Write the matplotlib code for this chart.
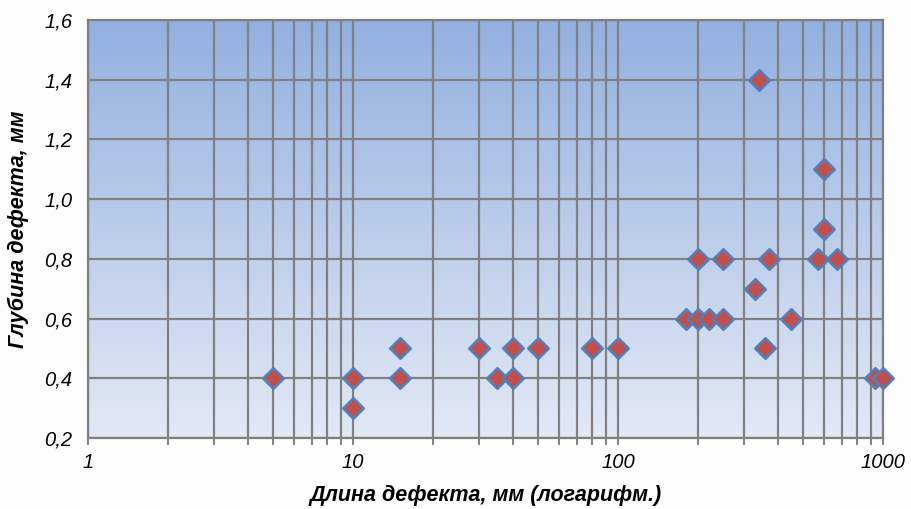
import matplotlib

matplotlib.use("Agg")
import matplotlib.pyplot as plt
import numpy as np
from matplotlib.colors import LinearSegmentedColormap
from matplotlib.ticker import FixedLocator, FuncFormatter, LogLocator, NullFormatter

# длина дефекта, мм / глубина дефекта, мм
length_mm = [5, 10, 10, 15, 15, 30, 35, 40, 40, 50, 80, 100,
             180, 200, 200, 220, 250, 250, 330, 340, 360, 370, 450,
             570, 600, 600, 670, 935, 1000]
depth_mm = [0.4, 0.4, 0.3, 0.5, 0.4, 0.5, 0.4, 0.4, 0.5, 0.5, 0.5, 0.5,
            0.6, 0.6, 0.8, 0.6, 0.6, 0.8, 0.7, 1.4, 0.5, 0.8, 0.6,
            0.8, 1.1, 0.9, 0.8, 0.4, 0.4]
y_ticks = [0.2, 0.4, 0.6, 0.8, 1.0, 1.2, 1.4, 1.6]
x_ticks = [1, 10, 100, 1000]

fig = plt.figure(figsize=(9.11, 5.09), dpi=100, facecolor="#fdfdfd")
ax = fig.add_axes([88 / 911, 1 - 438 / 509, (883 - 88) / 911, (438 - 20) / 509])

# градиентная заливка области построения
grad = LinearSegmentedColormap.from_list("bg", ["#e3e9f5", "#93b0e0"])
ax.imshow(np.linspace(0, 1, 256).reshape(-1, 1), cmap=grad, origin="lower", aspect="auto",
          extent=[0, 1, 0, 1], transform=ax.transAxes, zorder=0)

ax.scatter(length_mm, depth_mm, marker="D", s=110, facecolor="#c0504d", edgecolor="#4f81bd",
           linewidth=1.8, zorder=5, clip_on=False)

ax.set_xscale("log")
ax.set_xlim(1, 1000)
ax.set_ylim(0.2, 1.6)
ax.xaxis.set_major_locator(FixedLocator(x_ticks))
ax.xaxis.set_minor_locator(LogLocator(base=10, subs=np.arange(2, 10)))
ax.xaxis.set_minor_formatter(NullFormatter())
ax.xaxis.set_major_formatter(FuncFormatter(lambda v, p: f"{v:g}"))
ax.set_yticks(y_ticks)
ax.yaxis.set_major_formatter(FuncFormatter(lambda v, p: f"{v:.1f}".replace(".", ",")))

ax.grid(True, which="both", color="#808080", lw=1.6, zorder=1)
ax.set_axisbelow(True)
for sp in ax.spines.values():
    sp.set_color("#808080")
    sp.set_linewidth(1.6)
ax.tick_params(axis="x", which="both", direction="out", length=5, width=1.4, color="#808080",
               labelsize=14.5, pad=6)
ax.tick_params(axis="y", length=0, labelsize=14.5, pad=11)
for lbl in ax.get_xticklabels() + ax.get_yticklabels():
    lbl.set_fontstyle("italic")
    lbl.set_fontfamily("Liberation Sans")

ax.set_xlabel("Длина дефекта, мм (логарифм.)", fontsize=15.5, fontweight="bold", fontstyle="italic",
              family="Liberation Sans", labelpad=9)
ax.set_ylabel("Глубина дефекта, мм", fontsize=15.5, fontweight="bold", fontstyle="italic",
              family="Liberation Sans", labelpad=11)

fig.savefig("out.png", dpi=100, facecolor=fig.get_facecolor())
